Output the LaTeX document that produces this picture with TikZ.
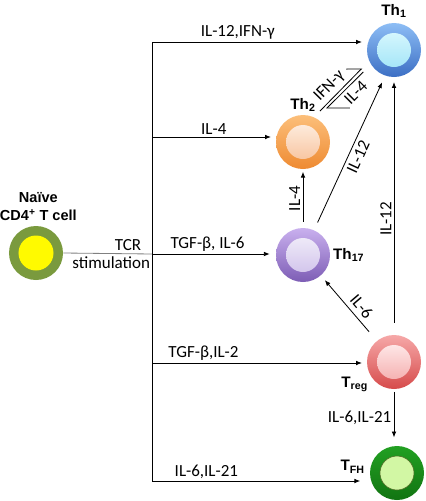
\documentclass[tikz,border=0pt]{standalone}
\usepackage{fontspec}
\setmainfont{Carlito}
\newfontfamily\cellfont{Liberation Sans}
\usepackage{tikz}
\usetikzlibrary{arrows.meta,calc,positioning}
\definecolor{naiveout}{HTML}{7A9A3E}
\definecolor{naivein}{HTML}{FFFA00}
\definecolor{thonea}{HTML}{8DBDF5}
\definecolor{thoneb}{HTML}{3C6FC4}
\definecolor{thonec}{HTML}{D4F6FD}
\definecolor{thoned}{HTML}{A6E6F8}
\definecolor{thtwoa}{HTML}{FCBF7A}
\definecolor{thtwob}{HTML}{EE8A32}
\definecolor{thtwoc}{HTML}{FDEADB}
\definecolor{thtwod}{HTML}{F8C7A3}
\definecolor{thsevena}{HTML}{C9B0EE}
\definecolor{thsevenb}{HTML}{7D5DB5}
\definecolor{thsevenc}{HTML}{EEE9F8}
\definecolor{thsevend}{HTML}{D3C6EC}
\definecolor{trega}{HTML}{F6A8A8}
\definecolor{tregb}{HTML}{D64B4B}
\definecolor{tregc}{HTML}{FEE6E6}
\definecolor{tregd}{HTML}{F5B2B2}
\definecolor{tfha}{HTML}{22A022}
\definecolor{tfhb}{HTML}{127412}
\definecolor{tfhc}{HTML}{D2F7A4}
\definecolor{tfhedge}{HTML}{4F6A25}
\begin{document}
\begin{tikzpicture}[x=0.03cm,y=-0.03cm,
    cell/.style={circle,inner sep=0pt,minimum size=1.62cm},
    core/.style={circle,inner sep=0pt,minimum size=1.02cm},
    lab/.style={font=\fontsize{14.5}{17}\selectfont,inner sep=2pt},
    cname/.style={font=\cellfont\bfseries\fontsize{13}{15}\selectfont,inner sep=1pt},
    arr/.style={-{Latex[length=5pt,width=4pt]},shorten >=4pt},
    harp/.style={-{Straight Barb[left,angle=90:#1]}},
    line width=0.7pt]
        \useasboundingbox (0,0) rectangle (426,501);
        %Draw cells
        \node[cell,fill=naiveout] (naive) at (36,253) {};
        \node[core,fill=naivein,minimum size=1.05cm] (naivec) at (naive) {};
        \node[cell,top color=thonea,bottom color=thoneb] (th1) at (394,50) {};
        \node[core,top color=thonec,bottom color=thoned] (th1c) at (th1) {};
        \node[cell,top color=thtwoa,bottom color=thtwob] (th2) at (303,142) {};
        \node[core,top color=thtwoc,bottom color=thtwod] (th2c) at (th2) {};
        \node[cell,top color=thsevena,bottom color=thsevenb] (th17) at (303,255) {};
        \node[core,top color=thsevenc,bottom color=thsevend] (th17c) at (th17) {};
        \node[cell,top color=trega,bottom color=tregb] (treg) at (394,362) {};
        \node[core,top color=tregc,bottom color=tregd] (tregc) at (treg) {};
        \node[cell,top color=tfha,bottom color=tfhb] (tfh) at (397,473) {};
        \node[core,fill=tfhc,draw=tfhedge,line width=0.5pt] (tfhc) at (tfh) {};
        %Draw labels
        \node[cname,align=center,above=3pt of naive,xshift=2pt,
              font=\cellfont\bfseries\fontsize{12.4}{15}\selectfont] (naivel) {Naïve\\CD4\textsuperscript{+} T cell};
        \node[cname,above=3pt of th1] (th1l) {Th\textsubscript{1}};
        \node[cname,above=1pt of th2] (th2l) {Th\textsubscript{2}};
        \node[cname,right=1pt of th17] (th17l) {Th\textsubscript{17}};
        \node[cname] (tregl) at ($(treg.south west)+(-20,3)$) {T\textsubscript{reg}};
        \node[cname] (tfhl) at ($(tfh.west)+(-17,-6)$) {T\textsubscript{FH}};
        %Draw branch lines
        \coordinate (top) at (152,42);
        \coordinate (b2) at (152,137);
        \coordinate (jn) at (152,254);
        \coordinate (b4) at (152,363);
        \coordinate (bot) at (152,481);
        \draw (top) -- (bot);
        \draw[gray] (naive.east) -- node[lab,pos=0.73,above,text=black] {TCR}
            node[lab,pos=0.54,below,text=black] {stimulation} (jn);
        \draw[arr] (top) -- node[lab,pos=0.4,above] {IL-12,IFN-γ} (top -| th1.west);
        \draw[arr] (b2) -- node[lab,midway,above] {IL-4} (b2 -| th2.west);
        \draw[arr,shorten >=5pt] (jn) -- node[lab,pos=0.45,above] {TGF-β, IL-6} (jn -| th17.west);
        \draw[arr] (b4) -- node[lab,pos=0.24,above] {TGF-β,IL-2} (b4 -| treg.west);
        \draw[arr,shorten >=8pt] (bot) -- node[lab,pos=0.25,above] {IL-6,IL-21} (bot -| tfh.west);
        %Draw cell to cell lines
        \draw[arr,shorten <=5pt,shorten >=2pt] (th17.north) -- node[lab,midway,sloped,above] {IL-4} (th2.south);
        \draw[arr,shorten <=7pt,shorten >=6pt] (th17.66) -- node[lab,midway,sloped,below=1pt] {IL-12} (th1.251);
        \draw[arr,shorten <=10pt,shorten >=4pt] (treg.north) -- node[lab,pos=0.45,sloped,above] {IL-12} (th1.south);
        \draw[arr,shorten <=10pt,shorten >=5pt] (treg.129) -- node[lab,pos=0.42,sloped,above=2pt] {IL-6} (th17.311);
        \draw[arr,shorten <=2pt,shorten >=7pt] (treg.south) -- node[lab,midway,left] {IL-6,IL-21} (treg.south |- tfh.north);
        \draw[harp=12.75pt,shorten <=7pt,shorten >=8.5pt] (th2.66) -- node[lab,pos=0.42,sloped,above=1pt] {IFN-γ} (th1.204);
        \draw[harp=19.5pt,shorten <=9pt,shorten >=11.6pt] (th1.212) -- node[lab,pos=0.4,sloped,below=1pt] {IL-4} (th2.60);
\end{tikzpicture}
\end{document}
